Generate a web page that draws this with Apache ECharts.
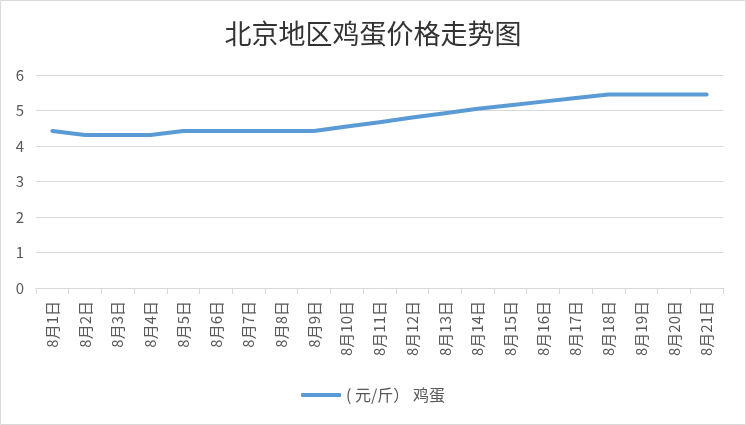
<!DOCTYPE html>
<html>
<head>
<meta charset="utf-8">
<script src="https://cdn.jsdelivr.net/npm/echarts@6/dist/echarts.min.js"></script>
<style>
html,body{margin:0;padding:0;background:#fff;}
#c{width:746px;height:425px;}
</style>
</head>
<body>
<div id="c"></div>
<script>
var titleText = '北京地区鸡蛋价格走势图';
var seriesName = '( 元/斤） 鸡蛋';
var categories = ['8月1日','8月2日','8月3日','8月4日','8月5日','8月6日','8月7日','8月8日','8月9日','8月10日','8月11日','8月12日','8月13日','8月14日','8月15日','8月16日','8月17日','8月18日','8月19日','8月20日','8月21日'];
var eggPrices = [4.42, 4.31, 4.31, 4.31, 4.42, 4.42, 4.42, 4.42, 4.42, 4.55, 4.67, 4.80, 4.92, 5.05, 5.15, 5.25, 5.35, 5.45, 5.45, 5.45, 5.45];
var yTicks = [0, 1, 2, 3, 4, 5, 6];

var chart = echarts.init(document.getElementById('c'), null, {renderer: 'canvas'});
var font = '"Noto Sans CJK SC", "Noto Sans", sans-serif';
chart.setOption({
  backgroundColor: '#ffffff',
  animation: false,
  textStyle: {fontFamily: font},
  title: {
    text: titleText,
    left: 'center',
    top: 15,
    textStyle: {fontFamily: font, fontSize: 27, fontWeight: 'normal', color: '#333333'}
  },
  graphic: [{
    type: 'rect',
    shape: {x: 0.5, y: 0.5, width: 745, height: 424},
    style: {fill: 'none', stroke: '#d9d9d9', lineWidth: 1},
    silent: true
  }],
  legend: {
    bottom: 17,
    left: 'center',
    icon: 'roundRect',
    itemWidth: 40,
    itemHeight: 4,
    itemGap: 6,
    textStyle: {fontFamily: font, fontSize: 16, color: '#595959'},
    data: [seriesName]
  },
  grid: {left: 36, right: 23, top: 75, bottom: 137},
  xAxis: {
    type: 'category',
    data: categories,
    boundaryGap: true,
    axisLine: {lineStyle: {color: '#d9d9d9', width: 1}},
    axisTick: {show: true, length: 6, lineStyle: {color: '#d9d9d9'}},
    axisLabel: {rotate: 90, margin: 13, fontSize: 15, color: '#595959', fontFamily: font, interval: 0}
  },
  yAxis: {
    type: 'value',
    min: yTicks[0],
    max: yTicks[yTicks.length - 1],
    interval: 1,
    axisLine: {show: false},
    axisTick: {show: false},
    splitLine: {lineStyle: {color: '#d9d9d9', width: 1}},
    axisLabel: {margin: 12, fontSize: 15, color: '#595959', fontFamily: font}
  },
  series: [{
    name: seriesName,
    type: 'line',
    data: eggPrices,
    showSymbol: false,
    symbol: 'none',
    color: '#5b9bd5',
    lineStyle: {color: '#5b9bd5', width: 4, cap: 'round', join: 'round'}
  }]
});
</script>
</body>
</html>
